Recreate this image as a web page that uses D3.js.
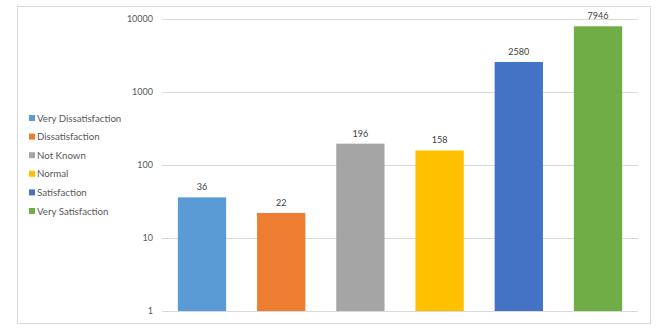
<!DOCTYPE html>
<html lang="en">
<head>
<meta charset="UTF-8">
<title>Satisfaction</title>
<style>
	body { margin: 0; background: #fff; }
	text { font-family: Lato, sans-serif; }
</style>
</head>
<body>
<svg width="665" height="333"></svg>
<script src="https://d3js.org/d3.v7.min.js"></script>
<script>
	var categories = ["Very Dissatisfaction", "Dissatisfaction", "Not Known", "Normal", "Satisfaction", "Very Satisfaction"];
	var values = [36, 22, 196, 158, 2580, 7946];
	var colors = ["#5B9BD5", "#ED7D31", "#A5A5A5", "#FFC000", "#4472C4", "#70AD47"];
	var tickValues = [1, 10, 100, 1000, 10000];

	var svg = d3.select("svg");

	// chart border
	svg.append("rect")
		.attr("x", 17.5).attr("y", 6.5)
		.attr("width", 633).attr("height", 317)
		.attr("fill", "#fff").attr("stroke", "#d9d9d9");

	var x = d3.scaleBand().domain(categories).range([162, 638]).paddingInner(0.39).paddingOuter(0.2);
	var y = d3.scaleLog().domain([1, 10000]).range([311, 19]);

	// gridlines
	svg.append("g").selectAll("line").data(tickValues).enter().append("line")
		.attr("x1", 162).attr("x2", 638)
		.attr("y1", function (d) { return Math.round(y(d)) + 0.5; })
		.attr("y2", function (d) { return Math.round(y(d)) + 0.5; })
		.attr("stroke", "#d9d9d9");

	// y axis labels
	var yAxis = svg.append("g")
		.attr("transform", "translate(162,0)")
		.call(d3.axisLeft(y).tickValues(tickValues).tickFormat(d3.format("d")).tickSize(0).tickPadding(9));
	yAxis.select(".domain").remove();
	yAxis.selectAll("text").attr("fill", "#595959").style("font-size", "9px").style("font-family", "Lato, sans-serif");

	// bars
	svg.append("g").selectAll("rect").data(values).enter().append("rect")
		.attr("x", function (d, i) { return x(categories[i]); })
		.attr("y", function (d) { return y(d); })
		.attr("width", x.bandwidth())
		.attr("height", function (d) { return y(1) - y(d); })
		.attr("fill", function (d, i) { return colors[i]; });

	// data labels
	svg.append("g").selectAll("text").data(values).enter().append("text")
		.attr("x", function (d, i) { return x(categories[i]) + x.bandwidth() / 2; })
		.attr("y", function (d) { return y(d) - 7; })
		.attr("text-anchor", "middle")
		.attr("fill", "#404040")
		.style("font-size", "9px")
		.text(function (d) { return d; });

	// legend
	var legend = svg.append("g").selectAll("g").data(categories).enter().append("g")
		.attr("transform", function (d, i) { return "translate(29," + (118 + i * 18.6) + ")"; });
	legend.append("rect")
		.attr("x", 0).attr("y", -3).attr("width", 6).attr("height", 6)
		.attr("fill", function (d, i) { return colors[i]; });
	legend.append("text")
		.attr("x", 8).attr("y", 3.5)
		.attr("fill", "#595959")
		.style("font-size", "9.7px")
		.text(function (d) { return d; });
</script>
</body>
</html>
